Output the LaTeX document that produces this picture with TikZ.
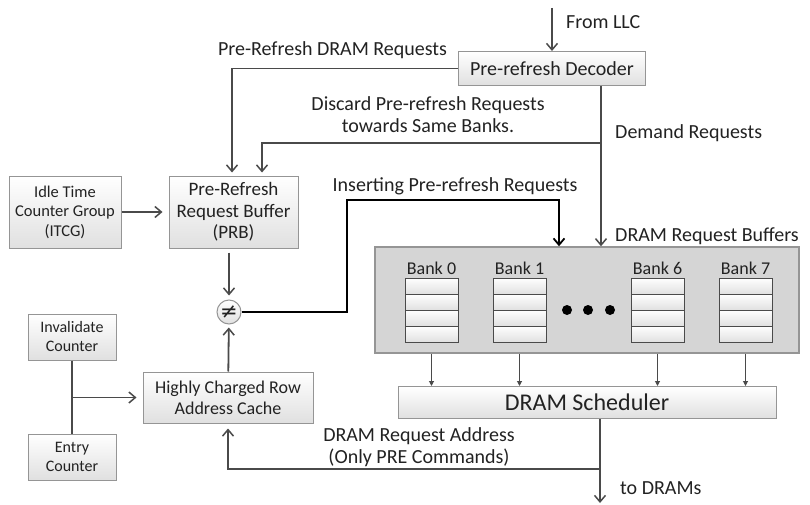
\documentclass[tikz,border=0pt]{standalone}
\usepackage{fontspec}
\setmainfont{Carlito}
\newfontfamily\symfont{DejaVu Sans}
\usetikzlibrary{arrows.meta,positioning}
\definecolor{lnc}{HTML}{4A4A4A}
\definecolor{txc}{HTML}{222222}
\definecolor{bxb}{HTML}{E0E0E0}
\definecolor{bxd}{HTML}{959595}
\definecolor{bufc}{HTML}{D5D5D5}
\newcommand{\cellH}{16}
\newcommand{\cellW}{53}
\newcommand{\lblsize}{\fontsize{20}{22}\selectfont}

\begin{document}
\begin{tikzpicture}[x=1pt, y=-1pt, text=txc,
	box/.style={draw=bxd, line width=1pt, top color=white, bottom color=bxb, inner sep=2pt, align=center},
	cell/.style={draw=lnc, line width=0.8pt, top color=white, bottom color=bxb, minimum width=\cellW pt, minimum height=\cellH pt, inner sep=0pt},
	lbl/.style={font=\lblsize, align=center, inner sep=0pt},
	arr/.style={draw=lnc, line width=1.8pt, -{Straight Barb[length=6.5pt, width=11pt, line width=1.5pt]}},
	arrk/.style={draw=black, line width=2.2pt, -{Straight Barb[length=6.5pt, width=11pt, line width=1.8pt]}},
	tarr/.style={draw=lnc, line width=1pt, -{Triangle[length=5pt, width=5pt]}},
	ln/.style={draw=lnc, line width=1.8pt}]
	\useasboundingbox (0,0) rectangle (810,505);

	\node[box, minimum width=187pt, minimum height=34pt, font=\fontsize{20}{22}\selectfont] (dec) at (552,68.5) {Pre-refresh Decoder};
	\node[box, minimum width=112pt, minimum height=72pt, font=\fontsize{16.5}{19.5}\selectfont] (itcg) at (65,212) {Idle Time\\Counter Group\\(ITCG)};
	\node[box, minimum width=129pt, minimum height=72pt, font=\fontsize{19}{21.5}\selectfont] (prb) at (233.5,212) {Pre-Refresh\\Request Buffer\\(PRB)};
	\node[box, circle, minimum size=24pt, inner sep=0pt, font=\fontsize{21}{23}\symfont] (neq) at (229,312) {≠};
	\node[box, minimum width=170pt, minimum height=51pt, font=\fontsize{18}{21}\selectfont] (hcrac) at (228,397.5) {Highly Charged Row\\Address Cache};
	\node[box, minimum width=88pt, minimum height=46pt, font=\fontsize{16}{19}\selectfont] (inv) at (72,337) {Invalidate\\Counter};
	\node[box, minimum width=88pt, minimum height=46pt, font=\fontsize{16}{19}\selectfont] (entry) at (72,457) {Entry\\Counter};
	\node[draw=bxd, line width=1.5pt, fill=bufc, minimum width=424pt, minimum height=106pt] (buf) at (587,300) {};
	\node[box, minimum width=378pt, minimum height=32pt, font=\fontsize{24}{26}\selectfont] (sched) at (587,402.5) {DRAM Scheduler};

	\foreach \k/\xx in {0/431.5,1/519.5,6/657.5,7/745.5}{
		\node[font=\fontsize{18}{20}\selectfont, inner sep=0pt] (bl\k) at (\xx,268) {Bank \k};
		\foreach \r in {0,...,3}{
			\node[cell] (b\k r\r) at (\xx,{286+\cellH*\r}) {};
		}
		\draw[tarr] (b\k r3.south |- buf.south) -- (b\k r3.south |- sched.north);
	}
	\foreach \xx in {567,588,610}{
		\fill (\xx,310) circle (5);
	}

	\coordinate (llc) at (552,8);
	\coordinate (dmx) at (601,0);
	\coordinate (dj) at (601,143);
	\coordinate (ins) at (347,200);
	\coordinate (insx) at (559,0);
	\coordinate (drams) at (600,503);
	\coordinate (fb) at (600,469);

	\draw[arr] (llc) -- (dec);
	\draw[arr, shorten >=3pt] (dec.west) -| ([xshift=-1.5pt]prb.north);
	\draw[arr, shorten >=3pt] (dj) -| ([xshift=28.5pt]prb.north);
	\draw[arr] (dec.south -| dmx) -- (buf.north -| dmx);
	\draw[arr] (itcg) -- ([xshift=-6pt]prb.west);
	\draw[arr, shorten <=4pt, shorten >=4pt] (prb.south -| neq) -- (neq.north);
	\draw[arrk] (neq.east) -| (ins) -| (buf.north -| insx);
	\draw[arr, shorten >=3pt] (hcrac) -- (neq);
	\draw[ln] (inv) -- (entry);
	\draw[arr, shorten >=6pt] (inv.south |- hcrac) -- (hcrac.west);
	\draw[arr] (sched.south -| drams) -- (drams);
	\draw[arr, shorten >=5pt] (fb) -| (hcrac.south);

	\node[lbl, anchor=west] (tllc) at (566,22) {From LLC};
	\node[lbl] (tpre) at (332.5,50) {Pre-Refresh DRAM Requests};
	\node[lbl] (tdisc) at (428,114.5) {Discard Pre-refresh Requests\\towards Same Banks.};
	\node[lbl, anchor=west] (tdem) at (615,133) {Demand Requests};
	\node[lbl] (tins) at (455,186) {Inserting Pre-refresh Requests};
	\node[lbl, anchor=west] (tbuf) at (615,236) {DRAM Request Buffers};
	\node[lbl] (taddr) at (419,447) {DRAM Request Address\\(Only PRE Commands)};
	\node[lbl, anchor=west] (tout) at (620,488) {to DRAMs};
\end{tikzpicture}
\end{document}
